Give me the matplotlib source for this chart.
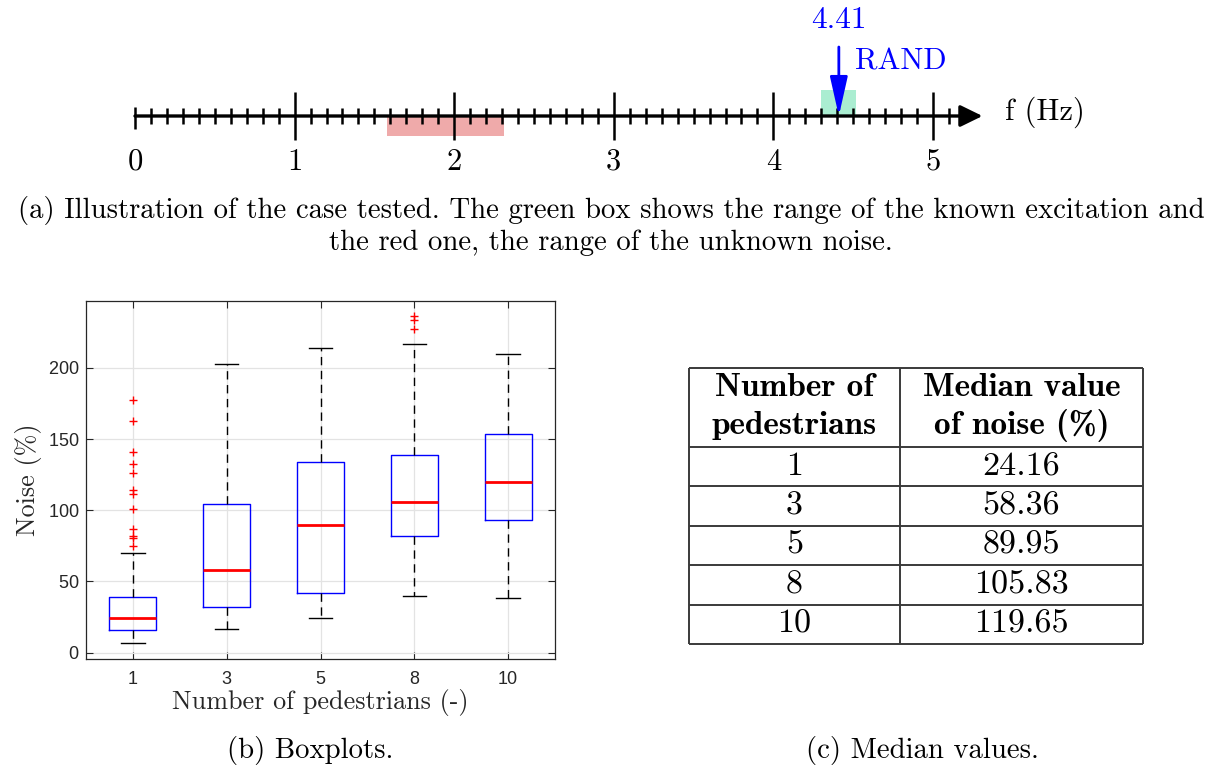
import numpy as np
import matplotlib
matplotlib.use('Agg')
import matplotlib.pyplot as plt

#-------------------------------------------------------------------------------
#DATA

#number line (Hz)
f_max = 5
known_band = (4.30, 4.52)      #green box, known excitation
noise_band = (1.58, 2.31)      #red box, unknown noise
f_rand = 4.41

#boxplot statistics
groups = ['1', '3', '5', '8', '10']
whislo = [7.0, 16.6, 24.6, 39.6, 38.4]
q1 = [16.2, 32.3, 41.9, 81.9, 93.5]
med = [24.16, 58.36, 89.95, 105.83, 119.65]
q3 = [39.4, 104.4, 133.9, 139.1, 153.9]
whishi = [70.3, 202.8, 214.1, 216.7, 209.8]
fliers = [
    [177.3, 163.0, 141.0, 132.3, 126.0, 114.1, 111.7, 100.9, 87.1, 81.7, 80.5, 74.9],
    [],
    [],
    [236.5, 234.0, 227.0],
    [],
]

#table
tab_pedestrians = ['1', '3', '5', '8', '10']
tab_median = ['24.16', '58.36', '89.95', '105.83', '119.65']

#-------------------------------------------------------------------------------
#SETUP

W, H = 1225, 774
plt.rcParams['axes.formatter.use_mathtext'] = True
serif = ['cmr10', 'DejaVu Serif']
serif_bold = ['cmb10', 'DejaVu Serif']
sans = ['Liberation Sans', 'DejaVu Sans']
cap_size = 20.7

fig = plt.figure(figsize=(W/100, H/100), dpi=100)

def rect(x0, y0, x1, y1):
    #pixel box (top-left origin) -> figure fraction rect
    return [x0/W, 1 - y1/H, (x1 - x0)/W, (y1 - y0)/H]

#-------------------------------------------------------------------------------
#(a) NUMBER LINE

x0px, scale = 135, 159.6
yax = 116
nl = fig.add_axes([0, 0, 1, 1])
nl.set_xlim(-x0px/scale, (W - x0px)/scale)
nl.set_ylim(H, 0)
nl.axis('off')

nl.fill_between(noise_band, yax, yax + 20, color='#efaaaa', lw=0, zorder=1)
nl.fill_between(known_band, yax - 26, yax, color='#aaedd1', lw=0, zorder=1)

minor = np.round(np.arange(0.1, f_max + 0.15, 0.1), 1)
minor = minor[np.abs(minor - np.round(minor)) > 1e-6]
nl.vlines(minor, yax - 8, yax + 8, color='black', lw=1.8, zorder=3)
nl.vlines([0], yax - 9, yax + 13, color='black', lw=1.8, zorder=3)
nl.vlines(np.arange(1, f_max + 1), yax - 24, yax + 24, color='black', lw=1.8, zorder=3)
nl.annotate('', xy=(f_max + 0.31, yax), xytext=(0, yax),
            arrowprops=dict(arrowstyle='-|>,head_length=0.45,head_width=0.22',
                            lw=2.4, color='black', mutation_scale=30,
                            shrinkA=0, shrinkB=0), zorder=3)
for k in range(f_max + 1):
    nl.text(k, 162, str(k), ha='center', va='center', fontsize=22, family=serif)
nl.text(f_max + 0.45, 112, 'f (Hz)', ha='left', va='center', fontsize=22, family=serif)

nl.annotate('', xy=(f_rand, yax), xytext=(f_rand, 47),
            arrowprops=dict(arrowstyle='-|>,head_length=0.8,head_width=0.18',
                            lw=2, color='blue', mutation_scale=30,
                            shrinkA=0, shrinkB=0), zorder=4)
nl.text(f_rand, 20, '4.41', ha='center', va='center', fontsize=22.5, color='blue', family=serif)
nl.text(f_rand + 0.1, 62, 'RAND', ha='left', va='center', fontsize=22, color='blue', family=serif)

#captions
fig.text(611/W, 1 - 210/H,
         '(a) Illustration of the case tested. The green box shows the range of the known excitation and',
         ha='center', va='center', fontsize=cap_size, family=serif)
fig.text(611/W, 1 - 243/H, 'the red one, the range of the unknown noise.',
         ha='center', va='center', fontsize=cap_size, family=serif)
fig.text(310/W, 1 - 750/H, '(b) Boxplots.', ha='center', va='center', fontsize=cap_size, family=serif)
fig.text(922/W, 1 - 750/H, '(c) Median values.', ha='center', va='center', fontsize=cap_size, family=serif)

#-------------------------------------------------------------------------------
#(b) BOXPLOTS

ax = fig.add_axes(rect(86, 301, 555, 659))
stats = []
for i in range(len(groups)):
    stats.append(dict(label=groups[i], whislo=whislo[i], q1=q1[i], med=med[i],
                      q3=q3[i], whishi=whishi[i], fliers=fliers[i]))
ax.bxp(stats, positions=np.arange(1, len(groups) + 1), widths=0.5, capwidths=0.25,
       boxprops=dict(color='blue', lw=1.0),
       whiskerprops=dict(color='black', lw=1.0, ls=(0, (6, 4))),
       capprops=dict(color='black', lw=1.0),
       medianprops=dict(color='red', lw=2.0),
       flierprops=dict(marker='+', markeredgecolor='red', markersize=6, mew=1.0))
ax.set_xlim(0.5, 5.5)
ax.set_ylim(-4.5, 247)
ax.set_yticks([0, 50, 100, 150, 200])
ax.set_xticks(np.arange(1, len(groups) + 1))
ax.set_xticklabels(groups)
ax.grid(True, color='#e3e3e3', lw=0.9)
ax.set_axisbelow(True)
ax.tick_params(direction='in', top=True, right=True, length=5, width=0.8,
               labelsize=13, colors='#262626')
ax.tick_params(axis='y', pad=5)
ax.tick_params(axis='x', pad=9)
for lab in ax.get_xticklabels() + ax.get_yticklabels():
    lab.set_family(sans)
for s in ax.spines.values():
    s.set_color('#262626')
    s.set_linewidth(0.9)
ax.set_ylabel('Noise (%)', fontsize=18.8, family=serif, color='#262626', va='center')
ax.set_xlabel('Number of pedestrians (-)', fontsize=18.8, family=serif, color='#262626', va='center')
ax.yaxis.set_label_coords((29 - 86)/469, 0.5)
ax.xaxis.set_label_coords(0.5, (659 - 703)/358)

#-------------------------------------------------------------------------------
#(c) TABLE

tb = fig.add_axes(rect(689, 368, 1143, 644))
nrows = len(tab_pedestrians)
tb.set_xlim(0, 1)
tb.set_ylim(nrows + 2, 0)
tb.axis('off')
xdiv = 0.465
lc = '#3a3a3a'
tb.hlines([0, 2] + list(np.arange(3, nrows + 3)), 0, 1, color=lc, lw=1.4, clip_on=False)
tb.vlines([0, xdiv, 1], 0, nrows + 2, color=lc, lw=1.4, clip_on=False)
c1, c2 = xdiv/2, (xdiv + 1)/2
tb.text(c1, 0.5, 'Number of', ha='center', va='center', fontsize=24, family=serif_bold)
tb.text(c1, 1.45, 'pedestrians', ha='center', va='center', fontsize=24, family=serif_bold)
tb.text(c2, 0.5, 'Median value', ha='center', va='center', fontsize=24, family=serif_bold)
tb.text(c2, 1.45, 'of noise (%)', ha='center', va='center', fontsize=24, family=serif_bold)
for i in range(nrows):
    tb.text(c1, 2.5 + i, tab_pedestrians[i], ha='center', va='center', fontsize=24.5, family=serif)
    tb.text(c2, 2.5 + i, tab_median[i], ha='center', va='center', fontsize=24.5, family=serif)

fig.savefig('out.png', dpi=100)
